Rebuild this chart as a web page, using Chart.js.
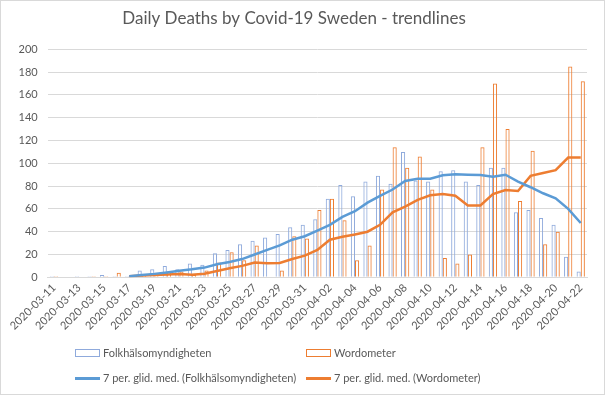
<!DOCTYPE html>
<html>
<head>
<meta charset="utf-8">
<script src="https://cdn.jsdelivr.net/npm/chart.js@4.4.1/dist/chart.umd.min.js"></script>
<style>
  body { margin: 0; background: #fff; }
  #wrap { position: relative; width: 605px; height: 395px; box-sizing: border-box; border: 1px solid #d9d9d9; }
  #legend { position: absolute; left: 0; top: 0; font-family: Lato, "Open Sans", sans-serif; font-size: 11px; color: #595959; }
  .item { position: absolute; white-space: nowrap; line-height: 14px; }
  .swatch { position: absolute; box-sizing: border-box; }
</style>
</head>
<body>
<div id="wrap">
  <canvas id="chart"></canvas>
  <div id="legend"></div>
</div>
<script>
// Tagliche Todesfalle Schweden
const dates = ["2020-03-11", "2020-03-12", "2020-03-13", "2020-03-14", "2020-03-15", "2020-03-16", "2020-03-17",
  "2020-03-18", "2020-03-19", "2020-03-20", "2020-03-21", "2020-03-22", "2020-03-23", "2020-03-24",
  "2020-03-25", "2020-03-26", "2020-03-27", "2020-03-28", "2020-03-29", "2020-03-30", "2020-03-31",
  "2020-04-01", "2020-04-02", "2020-04-03", "2020-04-04", "2020-04-05", "2020-04-06", "2020-04-07",
  "2020-04-08", "2020-04-09", "2020-04-10", "2020-04-11", "2020-04-12", "2020-04-13", "2020-04-14",
  "2020-04-15", "2020-04-16", "2020-04-17", "2020-04-18", "2020-04-19", "2020-04-20", "2020-04-21",
  "2020-04-22"];

const folkhalsomyndigheten = [1, 0, 1, 1, 2, 1, 1, 6, 7, 10, 7, 12, 11, 21, 24, 29, 32, 35, 38, 44, 46,
  51, 69, 81, 71, 84, 89, 82, 110, 85, 84, 93, 94, 84, 81, 96, 96, 57, 59, 52, 46, 18, 5];

const wordometer = [1, 0, 0, 1, 1, 4, 1, 2, 3, 5, 5, 2, 6, 13, 22, 15, 28, 0, 6, 36, 34,
  59, 69, 50, 15, 28, 77, 114, 96, 106, 77, 17, 12, 20, 114, 170, 130, 67, 111, 29, 40, 185, 172];

// 7 per. glid. med.
const trendFolk = [null, null, null, null, null, null, 1, 2, 3, 4.3, 5.8, 7, 8.5, 11.5, 13.5, 16, 20, 24, 28, 33, 36,
  41, 46, 53, 58, 65.5, 71.5, 77, 84.5, 86.5, 86.5, 89.5, 90.3, 90, 89.7, 88.3, 90, 84, 79, 73.7, 69.3, 60, 47.6];

const trendWord = [null, null, null, null, null, null, 1, 1.5, 2, 2.5, 2.9, 2.3, 3.2, 5.5, 8, 10, 13, 12.3, 12.5, 16, 19,
  24, 33, 35.5, 37.5, 40, 46, 57, 62, 68, 72, 73, 71.5, 63, 63, 73, 76.6, 75.7, 89, 91.5, 94, 105, 105];

const yTicks = { min: 0, max: 200, step: 20 };

const blueBar = "#8faadc";
const blueLine = "#5b9bd5";
const orange = "#ed7d31";
const grey = "#595959";
const font = "Lato, 'Open Sans', sans-serif";

const ctx = document.getElementById("chart").getContext("2d");
new Chart(ctx, {
  type: "bar",
  data: {
    labels: dates,
    datasets: [
      {
        type: "line",
        label: "7 per. glid. med. (Folkhälsomyndigheten)",
        data: trendFolk,
        borderColor: blueLine,
        borderWidth: 2.5,
        pointRadius: 0,
        tension: 0,
        order: 1
      },
      {
        type: "line",
        label: "7 per. glid. med. (Wordometer)",
        data: trendWord,
        borderColor: orange,
        borderWidth: 2.5,
        pointRadius: 0,
        tension: 0,
        order: 1
      },
      {
        label: "Folkhälsomyndigheten",
        data: folkhalsomyndigheten,
        backgroundColor: "rgba(255,255,255,0)",
        borderColor: blueBar,
        borderWidth: 1,
        barPercentage: 1,
        categoryPercentage: 0.66,
        order: 2
      },
      {
        label: "Wordometer",
        data: wordometer,
        backgroundColor: "rgba(255,255,255,0)",
        borderColor: orange,
        borderWidth: 1,
        barPercentage: 1,
        categoryPercentage: 0.66,
        order: 2
      }
    ]
  },
  options: {
    responsive: true,
    maintainAspectRatio: false,
    animation: false,
    layout: {
      padding: { left: 0, right: 17, top: 0, bottom: 0 }
    },
    scales: {
      x: {
        grid: { display: false, drawTicks: false },
        border: { color: "#d9d9d9" },
        ticks: {
          autoSkip: false,
          minRotation: 45,
          maxRotation: 45,
          padding: 4,
          color: grey,
          font: { family: font, size: 11 },
          callback: function(value, index) {
            return index % 2 === 0 ? dates[index] : "";
          }
        },
        afterFit: function(scale) {
          scale.height = 116.7;
        }
      },
      y: {
        min: yTicks.min,
        max: yTicks.max,
        grid: { color: "#d9d9d9", drawTicks: false },
        border: { display: false },
        ticks: {
          stepSize: yTicks.step,
          padding: 10,
          color: grey,
          font: { family: font, size: 11 }
        },
        afterFit: function(scale) {
          scale.width = 46.7;
        }
      }
    },
    plugins: {
      legend: { display: false },
      tooltip: { enabled: false },
      title: {
        display: true,
        text: "Daily Deaths by Covid-19 Sweden - trendlines",
        color: grey,
        font: { family: font, size: 17, weight: "normal" },
        padding: { top: 7, bottom: 20.9 }
      }
    }
  }
});

// Legende wie in Excel (2 Spalten)
const legendItems = [
  { text: "Folkhälsomyndigheten", kind: "box", color: blueBar, x: 74, y: 353 },
  { text: "Wordometer", kind: "box", color: orange, x: 305, y: 353 },
  { text: "7 per. glid. med. (Folkhälsomyndigheten)", kind: "line", color: blueLine, x: 74, y: 378 },
  { text: "7 per. glid. med. (Wordometer)", kind: "line", color: orange, x: 305, y: 378 }
];
const legend = document.getElementById("legend");
legendItems.forEach(function(it) {
  const sw = document.createElement("div");
  sw.className = "swatch";
  if (it.kind === "box") {
    sw.style.cssText = "left:" + it.x + "px;top:" + (it.y - 5) + "px;width:25px;height:8px;border:1px solid " + it.color + ";";
  } else {
    sw.style.cssText = "left:" + it.x + "px;top:" + (it.y - 2) + "px;width:25px;height:3px;background:" + it.color + ";";
  }
  legend.appendChild(sw);
  const t = document.createElement("div");
  t.className = "item";
  t.textContent = it.text;
  t.style.left = (it.x + 28) + "px";
  t.style.top = (it.y - 8) + "px";
  legend.appendChild(t);
});
</script>
</body>
</html>
